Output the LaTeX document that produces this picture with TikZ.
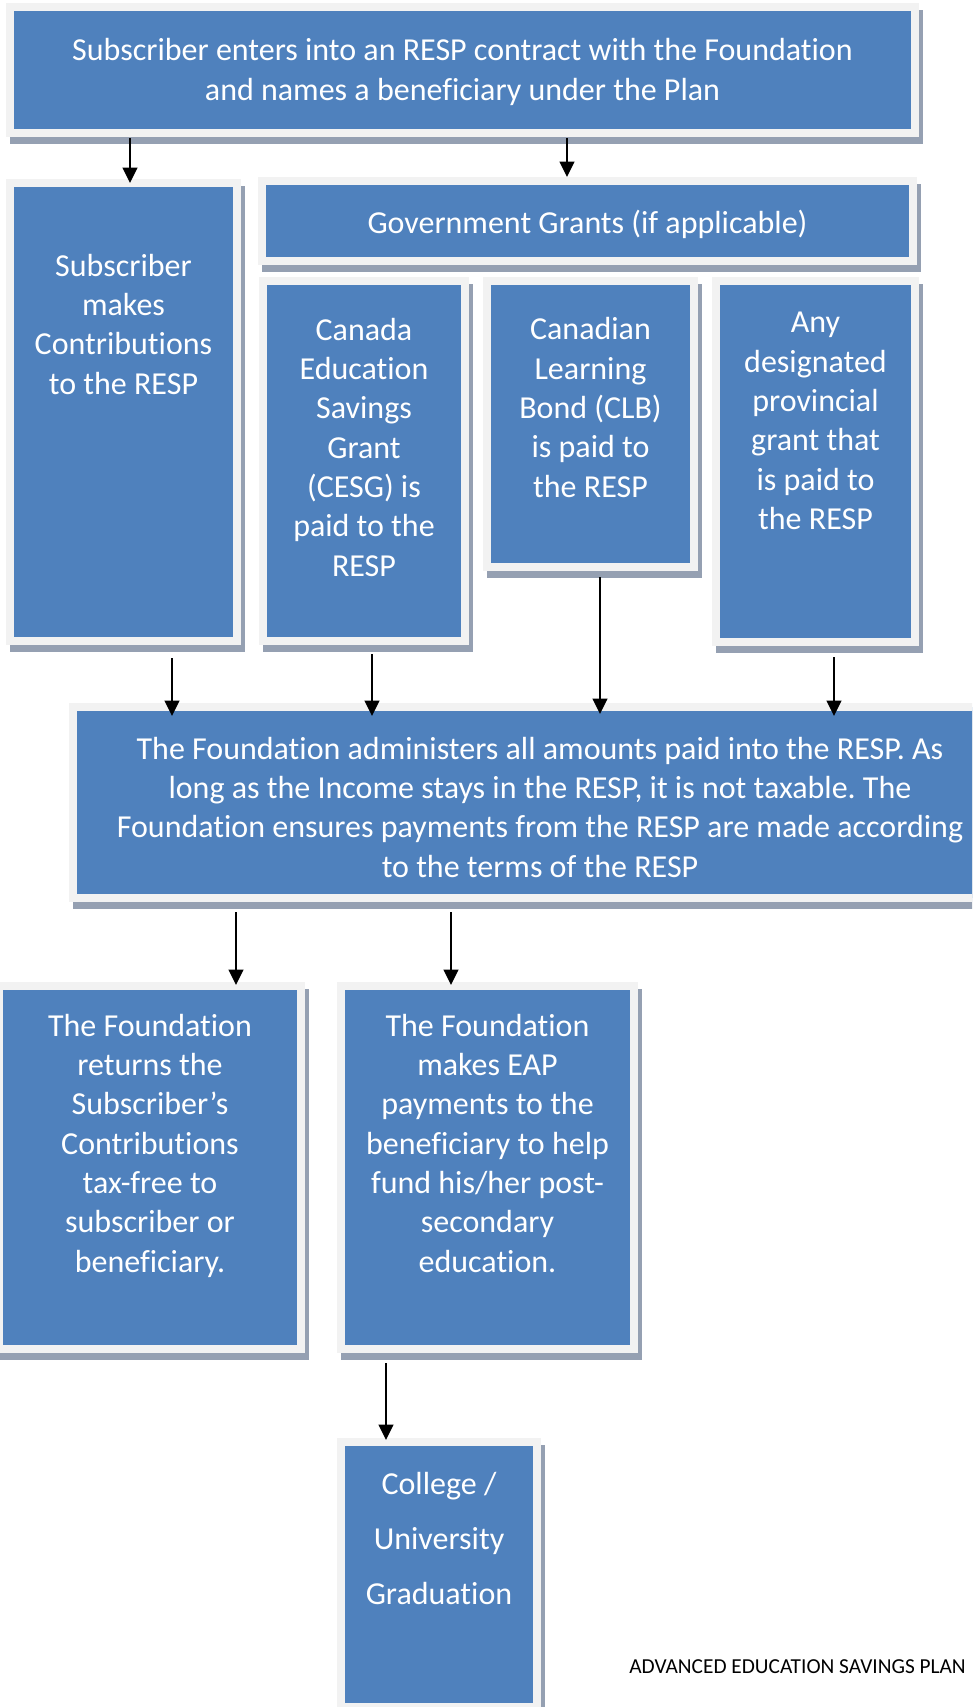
\documentclass[tikz,border=0pt]{standalone}
\usepackage{fontspec}
\setmainfont{Carlito}[Ligatures=NoCommon]
\frenchspacing
\usetikzlibrary{arrows.meta,calc}
\definecolor{boxblue}{RGB}{79,129,189}
\definecolor{boxrim}{RGB}{242,242,242}
\definecolor{boxshade}{RGB}{149,160,178}
\tikzset{
  flowrect/.style={draw=boxrim, line width=6pt, fill=boxblue, inner sep=0pt, outer sep=0pt},
  boxtext/.style={text=white, align=center, inner sep=0pt, anchor=base, font=\fontsize{24}{29.5}\selectfont},
  flowarrow/.style={line width=1.2pt, -{Triangle[width=11pt,length=11.5pt]}},
}
\newcommand\flowbox[5]{%
  \fill[boxshade] ({#2-8+3.5},{#3-8+6.5}) rectangle ({#4+8+3.5},{#5+8+6.5});
  \node[flowrect, minimum width={(#4-#2+8)*0.75pt}, minimum height={(#5-#3+8)*0.75pt}] (#1) at ({(#2+#4)/2},{(#3+#5)/2}) {};
}
\begin{document}
\begin{tikzpicture}[x=0.75pt, y=-0.75pt]
\useasboundingbox (0,0) rectangle (972,1707);
\clip (0,0) rectangle (972,1707);
% boxes
\flowbox{top}{14}{11}{911}{129}
\flowbox{sub}{14}{187}{233}{637}
\flowbox{gov}{266}{185}{909}{257}
\flowbox{cesg}{267}{285}{461}{637}
\flowbox{clb}{491}{285}{690}{563}
\flowbox{prov}{720}{285}{911}{638}
\flowbox{fnd}{77}{711}{1003}{894}
\flowbox{ret}{3}{990}{297}{1345}
\flowbox{eap}{345}{990}{630}{1345}
\flowbox{col}{345}{1446}{533}{1703}
% texts (anchor=base is the baseline of the last line)
\node[boxtext] (tTop) at (462.5,100.3) {Subscriber enters into an RESP contract with the Foundation\\and names a beneficiary under the Plan};
\node[boxtext] (tSub) at (123.5,394) {Subscriber\\makes\\Contributions\\to the RESP};
\node[boxtext] (tGov) at (587.5,233) {Government Grants (if applicable)};
\node[boxtext] (tCesg) at (364,576) {Canada\\Education\\Savings\\Grant\\(CESG) is\\paid to the\\RESP};
\node[boxtext] (tClb) at (590.5,497) {Canadian\\Learning\\Bond (CLB)\\is paid to\\the RESP};
\node[boxtext] (tProv) at (815.5,529.5) {Any\\designated\\provincial\\grant that\\is paid to\\the RESP};
\node[boxtext] (tFnd) at (540,877) {The Foundation administers all amounts paid into the RESP. As\\long as the Income stays in the RESP, it is not taxable. The\\Foundation ensures payments from the RESP are made according\\to the terms of the RESP};
\node[boxtext] (tRet) at (150,1272) {The Foundation\\returns the\\Subscriber’s\\Contributions\\tax-free to\\subscriber or\\beneficiary.};
\node[boxtext] (tEap) at (487.5,1272) {The Foundation\\makes EAP\\payments to the\\beneficiary to help\\fund his/her post-\\secondary\\education.};
\node[boxtext, font=\fontsize{24}{41.25}\selectfont] (tCol) at (439,1604) {College /\\University\\Graduation};
\node[anchor=base west, inner sep=0pt, font=\fontsize{16}{19.5}\selectfont] (foot) at (629,1673) {ADVANCED EDUCATION SAVINGS PLAN};
% arrow x positions
\coordinate (a1) at (130,0);
\coordinate (a2) at (567,0);
\coordinate (a3) at (172,0);
\coordinate (a4) at (372,0);
\coordinate (a5) at (600,0);
\coordinate (a6) at (834,0);
\coordinate (a7) at (236,0);
\coordinate (a8) at (451,0);
\coordinate (a9) at (386,0);
% arrows
\draw[flowarrow] ($(top.south -| a1)+(0,5)$) -- ($(sub.north -| a1)+(0,0)$);
\draw[flowarrow] ($(top.south -| a2)+(0,5)$) -- ($(gov.north -| a2)+(0,-4)$);
\draw[flowarrow] ($(sub.south -| a3)+(0,17)$) -- ($(fnd.north -| a3)+(0,9)$);
\draw[flowarrow] ($(cesg.south -| a4)+(0,13)$) -- ($(fnd.north -| a4)+(0,9)$);
\draw[flowarrow] ($(clb.south -| a5)+(0,10)$) -- ($(fnd.north -| a5)+(0,7)$);
\draw[flowarrow] ($(prov.south -| a6)+(0,15)$) -- ($(fnd.north -| a6)+(0,9)$);
\draw[flowarrow] ($(fnd.south -| a7)+(0,14)$) -- ($(ret.north -| a7)+(0,-1)$);
\draw[flowarrow] ($(fnd.south -| a8)+(0,14)$) -- ($(eap.north -| a8)+(0,-1)$);
\draw[flowarrow] ($(eap.south -| a9)+(0,14)$) -- ($(col.north -| a9)+(0,-2)$);
\end{tikzpicture}
\end{document}
